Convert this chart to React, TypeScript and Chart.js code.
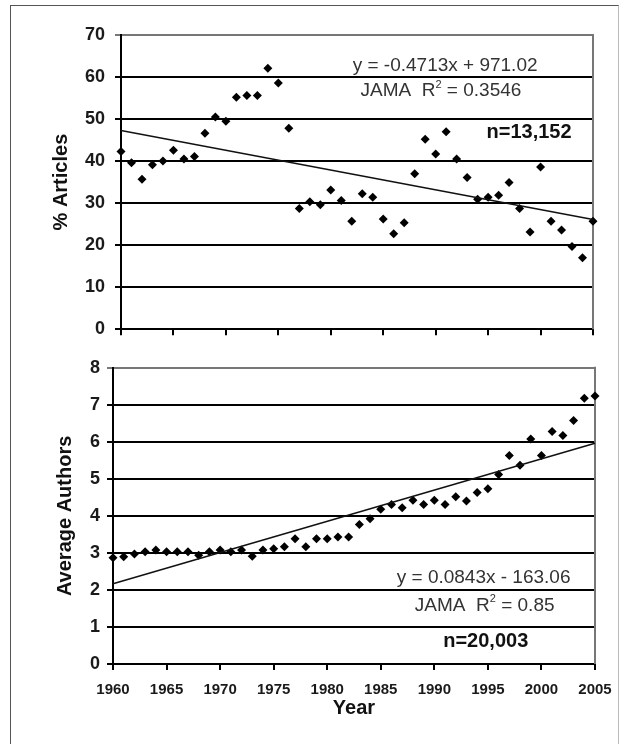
import React, { useEffect, useRef } from "react";
import { Chart, registerables } from "chart.js";

Chart.register(...registerables);

// ---------- data ----------
const years = [
  1960, 1961, 1962, 1963, 1964, 1965, 1966, 1967, 1968, 1969,
  1970, 1971, 1972, 1973, 1974, 1975, 1976, 1977, 1978, 1979,
  1980, 1981, 1982, 1983, 1984, 1985, 1986, 1987, 1988, 1989,
  1990, 1991, 1992, 1993, 1994, 1995, 1996, 1997, 1998, 1999,
  2000, 2001, 2002, 2003, 2004, 2005,
];

const pctArticles = [
  42.3, 39.6, 35.7, 39.1, 40.0, 42.6, 40.5, 41.1, 46.6, 50.5,
  49.5, 55.2, 55.6, 55.6, 62.1, 58.6, 47.8, 28.7, 30.3, 29.6,
  33.1, 30.6, 25.7, 32.2, 31.4, 26.2, 22.7, 25.3, 37.0, 45.2,
  41.7, 47.0, 40.5, 36.1, 30.9, 31.4, 31.9, 34.9, 28.7, 23.1,
  38.6, 25.7, 23.6, 19.7, 17.0, 25.7,
];

const avgAuthors = [
  2.87, 2.9, 2.97, 3.03, 3.08, 3.03, 3.03, 3.03, 2.94, 3.03,
  3.08, 3.03, 3.08, 2.91, 3.08, 3.11, 3.17, 3.38, 3.17, 3.38,
  3.38, 3.43, 3.43, 3.77, 3.92, 4.18, 4.31, 4.22, 4.42, 4.31,
  4.42, 4.31, 4.52, 4.4, 4.63, 4.73, 5.12, 5.63, 5.37, 6.08,
  5.63, 6.28, 6.17, 6.58, 7.18, 7.24,
];

const trendYears = [1960, 2005];
const pctTrend = [47.3, 26.1];
const authorsTrend = [2.17, 5.96];

const xTickYears = [1960, 1965, 1970, 1975, 1980, 1985, 1990, 1995, 2000, 2005];
const pctTicks = [0, 10, 20, 30, 40, 50, 60, 70];
const authorTicks = [0, 1, 2, 3, 4, 5, 6, 7, 8];

const topEquation = "y = -0.4713x + 971.02";
const topR2 = "0.3546";
const topN = "n=13,152";
const bottomEquation = "y = 0.0843x - 163.06";
const bottomR2 = "0.85";
const bottomN = "n=20,003";

// ---------- styling ----------
const FONT = "'Liberation Sans', Arial, sans-serif";

type Seg = { text: string; sup?: boolean };
type Annot = { x: number; y: number; segs: Seg[]; bold?: boolean; size: number; color: string };

const frameAndTextPlugin = {
  id: "frameAndText",
  beforeDatasetsDraw(chart: any) {
    const { ctx, chartArea } = chart;
    ctx.save();
    ctx.strokeStyle = "#777";
    ctx.lineWidth = 2;
    ctx.beginPath();
    ctx.moveTo(chartArea.right, chartArea.top - 1);
    ctx.lineTo(chartArea.right, chartArea.bottom);
    ctx.stroke();
    ctx.restore();
  },
  afterDatasetsDraw(chart: any, _args: any, opts: any) {
    const { ctx, scales } = chart;
    const items: Annot[] = (opts && opts.items) || [];
    ctx.save();
    ctx.textBaseline = "middle";
    ctx.textAlign = "left";
    for (const a of items) {
      const px = scales.x.getPixelForValue(a.x);
      const py = scales.y.getPixelForValue(a.y);
      const main = `${a.bold ? "bold " : ""}${a.size}px ${FONT}`;
      const sup = `${a.bold ? "bold " : ""}${Math.round(a.size * 0.6)}px ${FONT}`;
      let total = 0;
      for (const s of a.segs) {
        ctx.font = s.sup ? sup : main;
        total += ctx.measureText(s.text).width;
      }
      let cx = px - total / 2;
      ctx.fillStyle = a.color;
      for (const s of a.segs) {
        ctx.font = s.sup ? sup : main;
        ctx.fillText(s.text, cx, s.sup ? py - a.size * 0.32 : py);
        cx += ctx.measureText(s.text).width;
      }
    }
    ctx.restore();
  },
};

function makeChart(
  canvas: HTMLCanvasElement,
  values: number[],
  trend: number[],
  yTicks: number[],
  yTitle: string,
  annots: Annot[],
  geom: { padTop: number; padRight: number; yWidth: number; xHeight: number; yTitlePad: number; yTickPad: number },
  showX: boolean
) {
  const yMax = yTicks[yTicks.length - 1];
  return new Chart(canvas, {
    type: "scatter",
    data: {
      datasets: [
        {
          type: "line",
          data: trendYears.map((x, i) => ({ x, y: trend[i] })),
          borderColor: "#111",
          borderWidth: 1.5,
          pointRadius: 0,
          fill: false,
          clip: false as any,
        },
        {
          type: "scatter",
          data: years.map((x, i) => ({ x, y: values[i] })),
          backgroundColor: "#000",
          borderColor: "#000",
          pointStyle: "rectRot",
          pointRadius: 4.5,
          borderWidth: 0,
          clip: false as any,
        },
      ],
    },
    options: {
      animation: false,
      responsive: false,
      events: [],
      layout: { padding: { top: geom.padTop, right: geom.padRight, left: 0, bottom: 0 } },
      plugins: {
        legend: { display: false },
        tooltip: { enabled: false },
        frameAndText: { items: annots },
      } as any,
      scales: {
        x: {
          type: "linear",
          min: 1960,
          max: 2005,
          afterBuildTicks: (s: any) => {
            s.ticks = xTickYears.map((v) => ({ value: v }));
          },
          afterFit: (s: any) => {
            s.height = geom.xHeight;
          },
          grid: {
            drawOnChartArea: false,
            drawTicks: true,
            tickLength: 6,
            color: "#000",
            lineWidth: 2,
          },
          border: { display: true, color: "#000", width: 2 },
          ticks: {
            display: showX,
            padding: 11,
            color: "#1a1a1a",
            font: { family: FONT, size: 15, weight: "bold" },
            maxRotation: 0,
            autoSkip: false,
            callback: (v: any) => String(v),
          },
          title: {
            display: showX,
            text: "Year",
            color: "#111",
            font: { family: FONT, size: 20, weight: "bold" },
            padding: { top: 0, bottom: 24 },
          },
        },
        y: {
          type: "linear",
          min: 0,
          max: yMax,
          afterBuildTicks: (s: any) => {
            s.ticks = yTicks.map((v) => ({ value: v }));
          },
          afterFit: (s: any) => {
            s.width = geom.yWidth;
          },
          grid: {
            drawTicks: true,
            tickLength: 6,
            lineWidth: 2,
            color: (c: any) => (c.tick && c.tick.value === yMax ? "#777" : "#000"),
          },
          border: { display: true, color: "#000", width: 2 },
          ticks: {
            padding: geom.yTickPad,
            color: "#1a1a1a",
            font: { family: FONT, size: 18, weight: "bold" },
            callback: (v: any) => String(v),
          },
          title: {
            display: true,
            text: yTitle,
            color: "#111",
            font: { family: FONT, size: 20, weight: "bold" },
            padding: { top: geom.yTitlePad, bottom: 0 },
          },
        },
      },
    } as any,
    plugins: [frameAndTextPlugin],
  });
}

export default function App() {
  const topRef = useRef<HTMLCanvasElement | null>(null);
  const botRef = useRef<HTMLCanvasElement | null>(null);

  useEffect(() => {
    document.body.style.margin = "0";
    const annTop: Annot[] = [
      { x: 1990.9, y: 62.7, segs: [{ text: topEquation }], size: 19, color: "#333" },
      { x: 1990.5, y: 56.7, segs: [{ text: "JAMA  R" }, { text: "2", sup: true }, { text: " = " + topR2 }], size: 19, color: "#333" },
      { x: 1998.9, y: 46.7, segs: [{ text: topN }], size: 20, bold: true, color: "#111" },
    ];
    const annBot: Annot[] = [
      { x: 1994.6, y: 2.34, segs: [{ text: bottomEquation }], size: 19, color: "#333" },
      { x: 1994.7, y: 1.58, segs: [{ text: "JAMA  R" }, { text: "2", sup: true }, { text: " = " + bottomR2 }], size: 19, color: "#333" },
      { x: 1994.8, y: 0.6, segs: [{ text: bottomN }], size: 20, bold: true, color: "#111" },
    ];
    const c1 = makeChart(
      topRef.current!,
      pctArticles,
      pctTrend,
      pctTicks,
      "% Articles",
      annTop,
      { padTop: 35, padRight: 32, yWidth: 121, xHeight: 14, yTitlePad: 49, yTickPad: 10 },
      false
    );
    const c2 = makeChart(
      botRef.current!,
      avgAuthors,
      authorsTrend,
      authorTicks,
      "Average Authors",
      annBot,
      { padTop: 16, padRight: 30, yWidth: 113, xHeight: 80, yTitlePad: 53, yTickPad: 7 },
      true
    );
    return () => {
      c1.destroy();
      c2.destroy();
    };
  }, []);

  return (
    <div style={{ position: "relative", width: 625, height: 744, overflow: "hidden", background: "#fff" }}>
      <div
        style={{
          position: "absolute",
          left: 10,
          top: 5,
          width: 607,
          height: 800,
          borderLeft: "1px solid #555",
          borderTop: "1px solid #555",
          borderRight: "1px solid #bbb",
        }}
      />
      <canvas ref={topRef} width={625} height={350} style={{ position: "absolute", left: 0, top: 0 }} />
      <canvas ref={botRef} width={625} height={394} style={{ position: "absolute", left: 0, top: 350 }} />
    </div>
  );
}
